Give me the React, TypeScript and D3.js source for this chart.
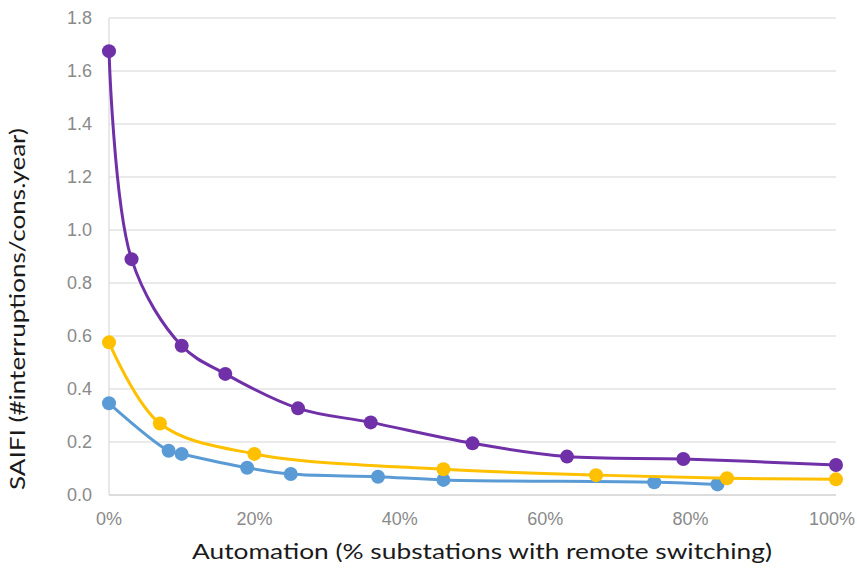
import React from "react";
import * as d3 from "d3";

const purpleX = [0, 3.1, 10, 16, 26, 36, 50, 63, 79, 100];
const purpleY = [1.675, 0.89, 0.563, 0.457, 0.327, 0.274, 0.195, 0.145, 0.136, 0.113];
const yellowX = [0, 7, 20, 46, 67, 85, 100];
const yellowY = [0.576, 0.27, 0.155, 0.097, 0.075, 0.063, 0.059];
const blueX = [0, 8.2, 10, 19, 25, 37, 46, 75, 83.7];
const blueY = [0.346, 0.167, 0.155, 0.103, 0.079, 0.069, 0.057, 0.048, 0.04];
const yTicks = [0, 0.2, 0.4, 0.6, 0.8, 1.0, 1.2, 1.4, 1.6, 1.8];
const xTicks = [0, 20, 40, 60, 80, 100];
const xTitle = "Automation (% substations with remote switching)";
const yTitle = "SAIFI (#interruptions/cons.year)";

const W = 857, H = 569;
const left = 109, right = 836, top = 18, bottom = 495;

export default function App() {
  const x = d3.scaleLinear().domain([0, 100]).range([left, right]);
  const y = d3.scaleLinear().domain([0, 1.8]).range([bottom, top]);
  const line = d3
    .line<[number, number]>()
    .x((d) => x(d[0]))
    .y((d) => y(d[1]))
    .curve(d3.curveCatmullRom.alpha(0.5));

  const series = [
    { xs: blueX, ys: blueY, color: "#5b9bd5" },
    { xs: yellowX, ys: yellowY, color: "#ffc000" },
    { xs: purpleX, ys: purpleY, color: "#7030a8" },
  ];

  return (
    <svg
      width={W}
      height={H}
      style={{ position: "absolute", left: 0, top: 0, background: "#fff" }}
    >
      {yTicks.map((t) => (
        <line
          key={"g" + t}
          x1={left}
          x2={right}
          y1={y(t)}
          y2={y(t)}
          stroke={t === 0 ? "#d0d0d0" : "#e3e3e3"}
          strokeWidth={1.5}
        />
      ))}
      <line x1={left} x2={left} y1={top} y2={bottom} stroke="#e0e0e0" strokeWidth={1.5} />
      {yTicks.map((t) => (
        <text
          key={"yt" + t}
          x={92}
          y={y(t)}
          dy="0.36em"
          textAnchor="end"
          fontFamily="Liberation Sans, Arial, sans-serif"
          fontSize={18}
          fill="#8a8a8a"
        >
          {t.toFixed(1)}
        </text>
      ))}
      {xTicks.map((t) => (
        <text
          key={"xt" + t}
          x={t === 100 ? 855 : x(t)}
          y={525}
          textAnchor={t === 100 ? "end" : "middle"}
          fontFamily="Liberation Sans, Arial, sans-serif"
          fontSize={18}
          fill="#8a8a8a"
        >
          {t + "%"}
        </text>
      ))}
      <text
        x={(192 + 772) / 2}
        y={559}
        textAnchor="middle"
        fontFamily="Lato, 'Open Sans', sans-serif"
        fontSize={22}
        fill="#1a1a1a"
        textLength={580}
        lengthAdjust="spacingAndGlyphs"
      >
        {xTitle}
      </text>
      <text
        transform={`translate(25, ${(128 + 490) / 2}) rotate(-90)`}
        textAnchor="middle"
        fontFamily="Lato, 'Open Sans', sans-serif"
        fontSize={22}
        fill="#1a1a1a"
        textLength={362}
        lengthAdjust="spacingAndGlyphs"
      >
        {yTitle}
      </text>
      {series.map((s, i) => {
        const pts: [number, number][] = s.xs.map((v, j) => [v, s.ys[j]]);
        return (
          <g key={i}>
            <path d={line(pts) || ""} fill="none" stroke={s.color} strokeWidth={3} />
            {pts.map((p, j) => (
              <circle key={j} cx={x(p[0])} cy={y(p[1])} r={7} fill={s.color} />
            ))}
          </g>
        );
      })}
    </svg>
  );
}
